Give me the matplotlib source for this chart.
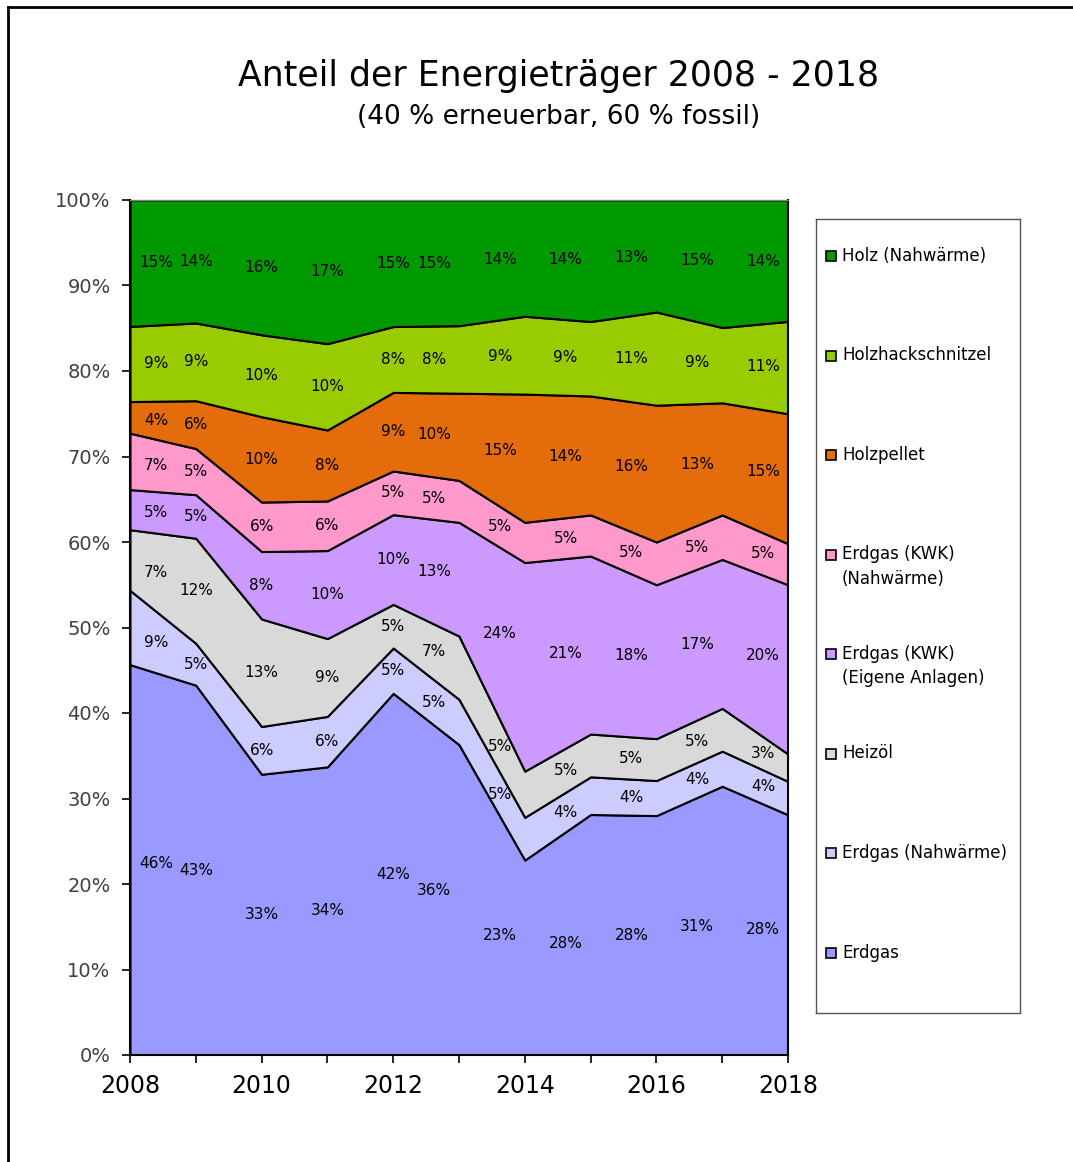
import numpy as np
import matplotlib
matplotlib.use("Agg")
import matplotlib.pyplot as plt
from matplotlib.lines import Line2D
from matplotlib.patches import Rectangle

# Anteile je Energieträger in % (von unten nach oben gestapelt)
years = np.arange(2008, 2019)
erdgas = [45.7, 43.3, 32.9, 33.7, 42.3, 36.3, 22.8, 28.1, 28.0, 31.4, 28.1]
erdgas_nw = [8.7, 4.9, 5.6, 5.9, 5.3, 5.3, 5.0, 4.4, 4.1, 4.1, 3.9]
heizoel = [7.1, 12.3, 12.6, 9.1, 5.1, 7.4, 5.4, 5.0, 4.9, 5.0, 3.2]
kwk_eigen = [4.7, 5.1, 7.9, 10.3, 10.5, 13.3, 24.4, 20.8, 18.0, 17.4, 19.8]
kwk_nw = [6.6, 5.4, 5.8, 5.8, 5.1, 4.9, 4.7, 4.8, 5.0, 5.2, 4.8]
pellet = [3.7, 5.6, 10.0, 8.3, 9.2, 10.2, 15.0, 13.9, 16.0, 13.1, 15.2]
hackschnitzel = [8.8, 9.1, 9.6, 10.1, 7.7, 7.9, 9.1, 8.7, 10.9, 8.8, 10.8]
holz = [14.8, 14.4, 15.8, 16.8, 14.8, 14.7, 13.6, 14.2, 13.1, 14.9, 14.2]

series = [erdgas, erdgas_nw, heizoel, kwk_eigen, kwk_nw, pellet, hackschnitzel, holz]
names = ["Erdgas", "Erdgas (Nahwärme)", "Heizöl", "Erdgas (KWK)\n(Eigene Anlagen)",
         "Erdgas (KWK)\n(Nahwärme)", "Holzpellet", "Holzhackschnitzel", "Holz (Nahwärme)"]
colors = ["#9999FF", "#CCCCFF", "#D9D9D9", "#CC99FF", "#FF99CC", "#E46C0A", "#99CC00", "#009900"]

vals = np.array(series, dtype=float)
shares = vals / vals.sum(axis=0) * 100

fig = plt.figure(figsize=(10.73, 11.62), dpi=100)
ax = fig.add_axes([130 / 1073, 1 - 1055 / 1162, 658 / 1073, 855 / 1162])

ax.stackplot(years, *shares, colors=colors, edgecolor="black", linewidth=1.5)
ax.set_xlim(2008, 2018)
ax.set_ylim(0, 100)

# Datenbeschriftungen in der Mitte jeder Fläche
cum = np.cumsum(shares, axis=0)
lab_x = np.where(years == years[0], years + 0.4, np.where(years >= 2013, years - 0.38, years))
for i in range(len(series)):
    mid = cum[i] - shares[i] / 2
    lab_y = np.interp(lab_x, years, mid)
    for j in range(len(years)):
        ax.text(lab_x[j], lab_y[j], f"{vals[i][j]:.0f}%", ha="center", va="center",
                fontsize=11, color="black")

ax.set_yticks(np.arange(0, 101, 10))
ax.set_yticklabels([f"{v}%" for v in range(0, 101, 10)], fontsize=14, color="#404040")
ax.set_xticks(np.arange(2008, 2019, 2))
ax.set_xticks(np.arange(2009, 2018, 2), minor=True)
ax.set_xticklabels([str(y) for y in range(2008, 2019, 2)], fontsize=17)
ax.tick_params(axis="both", which="both", direction="out", length=6, width=1.2, color="black")
ax.tick_params(axis="x", pad=8)
ax.tick_params(axis="y", pad=8)
for s in ["left", "bottom", "right"]:
    ax.spines[s].set_linewidth(1.5)
ax.spines["top"].set_color("#808080")
ax.spines["top"].set_linewidth(1)

fig.text(559 / 1073, 1 - 76 / 1162, "Anteil der Energieträger 2008 - 2018", ha="center",
         va="center", fontsize=25)
fig.text(559 / 1073, 1 - 117 / 1162, "(40 % erneuerbar, 60 % fossil)", ha="center",
         va="center", fontsize=19)

# Legende als eigener Kasten
lax = fig.add_axes([816 / 1073, 1 - 1013 / 1162, 204 / 1073, 794 / 1162])
lax.set_xlim(0, 204)
lax.set_ylim(794, 0)
lax.set_xticks([])
lax.set_yticks([])
for s in lax.spines.values():
    s.set_color("#555555")
    s.set_linewidth(1)
line_gap = 24
for k, (name, col) in enumerate(zip(names[::-1], colors[::-1])):
    yc = 37 + k * 99.5
    n_lines = name.count("\n") + 1
    lax.add_patch(Rectangle((10, yc - 5), 10, 10, facecolor=col, edgecolor="black", linewidth=1.2))
    lax.text(26, yc + (n_lines - 1) * line_gap / 2, name, ha="left", va="center",
             fontsize=12, linespacing=1.45)

# Rahmen oben und links
fig.add_artist(Line2D([8 / 1073, 1], [1 - 7 / 1162, 1 - 7 / 1162], color="black", linewidth=2))
fig.add_artist(Line2D([8 / 1073, 8 / 1073], [0, 1 - 7 / 1162], color="black", linewidth=2))

fig.savefig("out.png", dpi=100)
